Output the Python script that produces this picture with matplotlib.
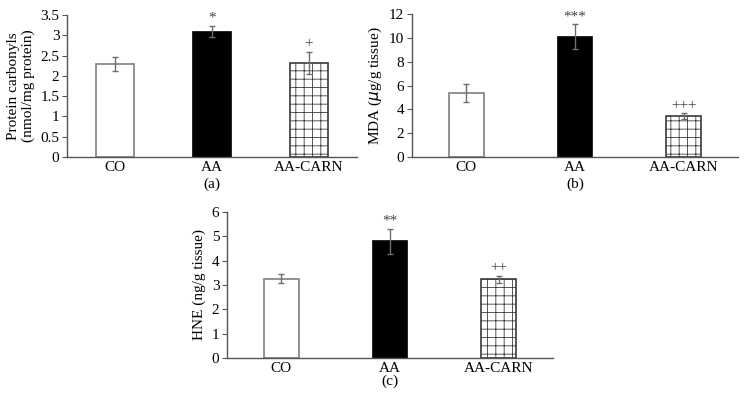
import matplotlib
matplotlib.use("Agg")
import matplotlib.pyplot as plt

plt.rcParams["font.family"] = ["Liberation Serif", "DejaVu Serif"]
plt.rcParams["hatch.linewidth"] = 0.6

groups = ["CO", "AA", "AA-CARN"]

carbonyl = [2.30, 3.09, 2.32]
carbonyl_err = [0.17, 0.13, 0.28]
carbonyl_sig = ["", "*", "+"]

mda = [5.36, 10.1, 3.43]
mda_err = [0.75, 1.02, 0.23]
mda_sig = ["", "***", "+++"]

hne = [3.26, 4.79, 3.23]
hne_err = [0.19, 0.51, 0.16]
hne_sig = ["", "**", "++"]

W, H = 747, 405
fig = plt.figure(figsize=(W / 100, H / 100), dpi=100)


def ax_px(x0, x1, ytop, ybot):
    return fig.add_axes([x0 / W, 1 - ybot / H, (x1 - x0) / W, (ybot - ytop) / H])


def panel(ax, vals, errs, sigs, ymax, step, width, ylabel, tag, tag_y, ticklabels):
    x = range(len(groups))
    styles = [dict(color="white", edgecolor="#7f7f7f"),
              dict(color="black", edgecolor="black"),
              dict(color="white", edgecolor="#3a3a3a", hatch="++")]
    for i in x:
        ax.bar(i, vals[i], width=width, linewidth=1.2, zorder=2, **styles[i])
    ax.errorbar(list(x), vals, yerr=errs, fmt="none", ecolor="#6e6e6e",
                elinewidth=1.0, capsize=2.5, capthick=1.0, zorder=3)
    off = ymax * 0.01
    for i in x:
        if sigs[i]:
            ax.text(i, vals[i] + errs[i] + off, sigs[i], ha="center", va="bottom",
                    fontsize=11, color="#444444")
    ax.set_xlim(-0.5, 2.5)
    ax.set_ylim(0, ymax)
    ticks = [k * step for k in range(int(round(ymax / step)) + 1)]
    ax.set_yticks(ticks)
    ax.set_yticklabels(ticklabels)
    ax.set_xticks(list(x))
    ax.set_xticklabels(groups)
    for s in ("top", "right"):
        ax.spines[s].set_visible(False)
    for s in ("left", "bottom"):
        ax.spines[s].set_color("#555555")
        ax.spines[s].set_linewidth(1.0)
    ax.tick_params(axis="x", length=0, labelsize=11, pad=3)
    ax.tick_params(axis="y", length=3.5, color="#555555", labelsize=11, pad=2)
    ax.set_ylabel(ylabel, fontsize=11, labelpad=4, linespacing=1.1)
    pos = ax.get_position()
    fig.text((pos.x0 + pos.x1) / 2, 1 - tag_y / H, tag, ha="center", va="center",
             fontsize=11)


ax_a = ax_px(67, 357, 15, 157)
panel(ax_a, carbonyl, carbonyl_err, carbonyl_sig, 3.5, 0.5, 0.39,
      "Protein carbonyls\n(nmol/mg protein)", "(a)", 184,
      ["0", "0.5", "1", "1.5", "2", "2.5", "3", "3.5"])

ax_b = ax_px(412, 738, 14, 157)
panel(ax_b, mda, mda_err, mda_sig, 12, 2, 0.32,
      r"MDA ($\mu$g/g tissue)", "(b)", 184,
      ["0", "2", "4", "6", "8", "10", "12"])

ax_c = ax_px(227, 553, 212, 358)
panel(ax_c, hne, hne_err, hne_sig, 6, 1, 0.32,
      "HNE (ng/g tissue)", "(c)", 381,
      ["0", "1", "2", "3", "4", "5", "6"])

fig.savefig("out.png", dpi=100)
